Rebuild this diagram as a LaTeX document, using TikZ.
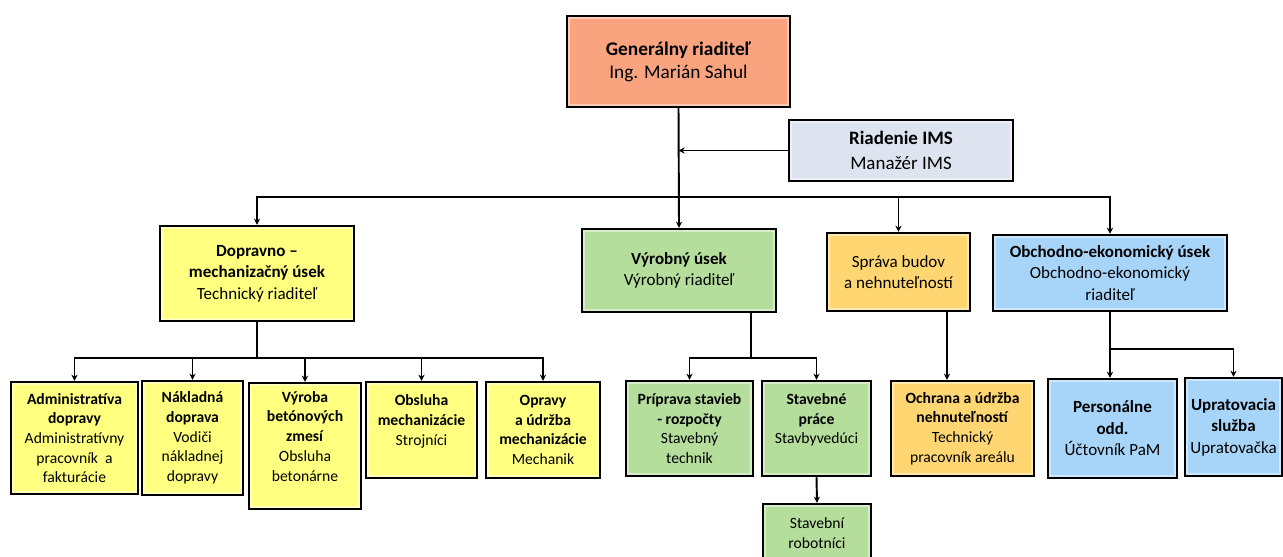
\documentclass[tikz,border=0pt]{standalone}
\usepackage{fontspec}
\setmainfont{Carlito}
\usetikzlibrary{arrows.meta}

\definecolor{grcol}{HTML}{F9A47E}
\definecolor{imscol}{HTML}{DDE4F0}
\definecolor{yelcol}{HTML}{FFFF80}
\definecolor{grncol}{HTML}{B5DD9C}
\definecolor{orgcol}{HTML}{FFD671}
\definecolor{blucol}{HTML}{A7D5F9}

\begin{document}
\begin{tikzpicture}[x=0.02cm,y=-0.02cm,
  unit/.style={draw=black, line width=1.4pt, align=center, inner sep=1pt,
    path picture={\draw[white, opacity=0.45, line width=3pt]
      (path picture bounding box.south west) rectangle (path picture bounding box.north east);}},
  big/.style={font=\fontsize{11}{13}\selectfont},
  ims/.style={font=\fontsize{10.8}{13.8}\selectfont},
  mid/.style={font=\fontsize{9.7}{12.2}\selectfont},
  small/.style={font=\fontsize{8.9}{11.2}\selectfont},
  conn/.style={line width=1.1pt},
  arr/.style={conn, -{Stealth[length=3.5pt,width=3.5pt]}}]

\useasboundingbox (0,0) rectangle (1283,556);

% vedenie
\node[unit,big,fill=grcol,minimum width=4.46cm,minimum height=1.82cm] (gr) at (678.5,61.5)
  {\textbf{Generálny riaditeľ}\\Ing. Marián Sahul};
\node[unit,ims,fill=imscol,minimum width=4.48cm,minimum height=1.22cm] (ims) at (901,150.5)
  {\textbf{Riadenie IMS}\\Manažér IMS};

% useky
\node[unit,mid,fill=yelcol,minimum width=3.88cm,minimum height=1.90cm] (dop) at (257,273.5)
  {\textbf{Dopravno –}\\\textbf{mechanizačný úsek}\\Technický riaditeľ};
\node[unit,mid,fill=grncol,minimum width=3.88cm,minimum height=1.66cm] (vyr) at (679,270.5)
  {\textbf{Výrobný úsek}\\Výrobný riaditeľ};
\node[unit,mid,fill=orgcol,minimum width=2.86cm,minimum height=1.56cm] (spr) at (898.5,272)
  {Správa budov\\a nehnuteľností};
\node[unit,mid,fill=blucol,minimum width=4.68cm,minimum height=1.52cm] (obe) at (1110,273)
  {\textbf{Obchodno-ekonomický úsek}\\Obchodno-ekonomický\\riaditeľ};

% dopravno - mechanizacny usek
\node[unit,small,fill=yelcol,minimum width=2.54cm,minimum height=2.24cm] (adm) at (74.5,438)
  {\textbf{Administratíva}\\\textbf{dopravy}\\Administratívny\\pracovník~ a\\fakturácie};
\node[unit,small,fill=yelcol,minimum width=2.02cm,minimum height=2.28cm] (nak) at (192.5,438)
  {\textbf{Nákladná}\\\textbf{doprava}\\Vodiči\\nákladnej\\dopravy};
\node[unit,small,fill=yelcol,minimum width=2.24cm,minimum height=2.52cm] (bet) at (305,446)
  {\textbf{Výroba}\\\textbf{betónových}\\\textbf{zmesí}\\Obsluha\\betonárne\\\mbox{}};
\node[unit,small,fill=yelcol,minimum width=2.22cm,minimum height=1.92cm] (obs) at (421.5,430)
  {\textbf{Obsluha}\\\textbf{mechanizácie}\\Strojníci\\\mbox{}};
\node[unit,small,fill=yelcol,minimum width=2.28cm,minimum height=1.92cm] (opr) at (543,430)
  {\textbf{Opravy}\\\textbf{a údržba}\\\textbf{mechanizácie}\\Mechanik};

% vyrobny usek
\node[unit,small,fill=grncol,minimum width=2.54cm,minimum height=1.90cm] (pri) at (689.5,428.5)
  {\textbf{Príprava stavieb}\\\textbf{- rozpočty}\\Stavebný\\technik};
\node[unit,small,fill=grncol,minimum width=2.18cm,minimum height=1.90cm] (stp) at (816.5,428.5)
  {\textbf{Stavebné}\\\textbf{práce}\\Stavbyvedúci\\\mbox{}};
\node[unit,small,fill=grncol,minimum width=2.16cm,minimum height=1.16cm] (rob) at (817,533)
  {Stavební\\robotníci};

% sprava budov
\node[unit,small,fill=orgcol,minimum width=2.86cm,minimum height=1.90cm] (och) at (962.5,428.5)
  {\textbf{Ochrana a údržba}\\\textbf{nehnuteľností}\\Technický\\pracovník areálu};

% obchodno-ekonomicky usek
\node[unit,mid,fill=blucol,minimum width=2.58cm,minimum height=1.98cm] (per) at (1112.5,428.5)
  {\textbf{Personálne}\\\textbf{odd.}\\Účtovník PaM};
\node[unit,mid,fill=blucol,minimum width=1.94cm,minimum height=1.96cm] (upr) at (1233.5,427)
  {\textbf{Upratovacia}\\\textbf{služba}\\Upratovačka};

% prepojenia
\draw[arr] (gr.south) -- (vyr.north);
\draw[arr] (ims.west) -- (ims.west -| gr.south);
\coordinate (bus) at (679,197);
\foreach \n in {dop,spr,obe}
  \draw[arr] (bus) -| (\n.north);

\coordinate (dbus) at (257,358);
\draw[conn] (dop.south) -- (dbus);
\foreach \n in {adm,nak,bet,obs,opr}
  \draw[arr] (dbus) -| (\n.north);

\coordinate (vbus) at (751,358);
\draw[conn] (vbus |- vyr.south) -- (vbus);
\foreach \n in {pri,stp}
  \draw[arr] (vbus) -| (\n.north);
\draw[arr] (stp.south) -- (rob.north);

\coordinate (sdrop) at (947,0);
\draw[arr] (sdrop |- spr.south) -- (sdrop |- och.north);

\draw[arr] (obe.south) -- (obe.south |- per.north);
\coordinate (obus) at (1110,349);
\draw[arr] (obus) -| (upr.north);

\end{tikzpicture}
\end{document}
